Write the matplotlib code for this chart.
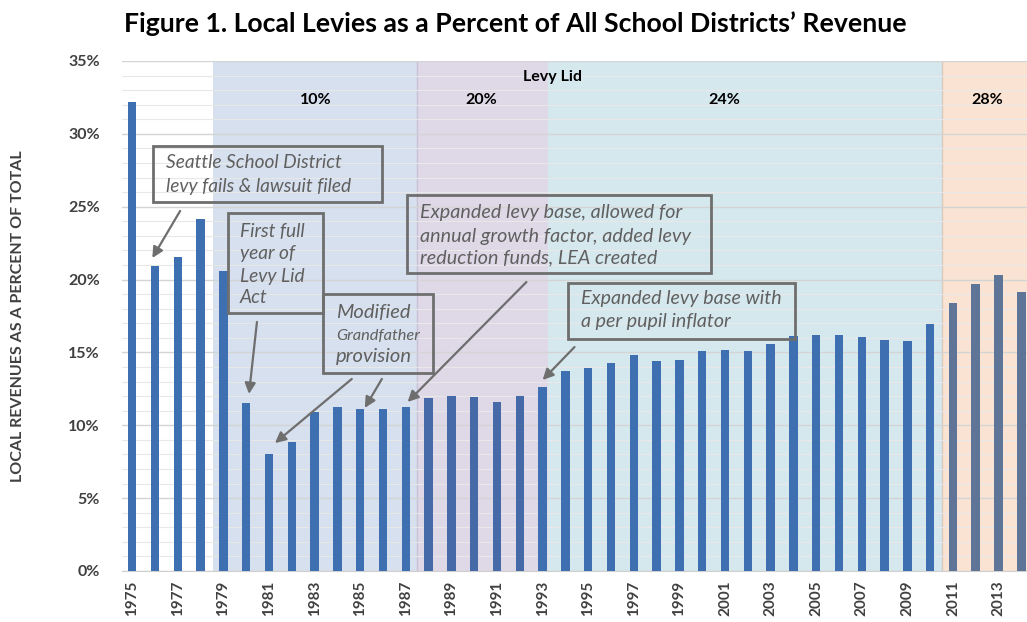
import numpy as np
import matplotlib
matplotlib.use('Agg')
import matplotlib.pyplot as plt
from matplotlib.patches import Rectangle

plt.rcParams['font.family'] = ['Lato', 'DejaVu Sans']

years = list(range(1975, 2015))
levy_pct = [32.2, 20.95, 21.55, 24.15, 20.6, 11.5, 8.0, 8.85, 10.9, 11.25,
            11.1, 11.1, 11.25, 11.9, 12.0, 11.95, 11.6, 12.0, 12.6, 13.7,
            13.9, 14.3, 14.8, 14.4, 14.5, 15.1, 15.2, 15.1, 15.6, 16.1,
            16.2, 16.2, 16.05, 15.85, 15.8, 16.95, 18.4, 19.7, 20.3, 19.15]

# levy lid periods: (start, end, label)
lid_start = [1978.55, 1987.5, 1993.25, 2010.5]
lid_end = [1987.5, 1993.25, 2010.5, 2014.3]
lid_labels = ['10%', '20%', '24%', '28%']
lid_label_x = [1983.06, 1990.32, 2000.96, 2012.52]
lid_colors = ['#d6e0ee', '#ded8e7', '#d5e8ee', '#fae3d2']

fig = plt.figure(figsize=(10.27, 6.22), dpi=100)
ax = fig.add_axes([122/1027, 1 - 571/622, 1 - 122/1027, (571 - 61)/622])

for s, e, c in zip(lid_start, lid_end, lid_colors):
    ax.axvspan(s, e, color=c, zorder=0, lw=0)
for b in [1987.5, 2010.5]:
    ax.axvline(b, color='#c9c0d6' if b < 2000 else '#d9c9bb', lw=1, zorder=0.5)

bar_cols = []
for y in years:
    if y >= 2011:
        bar_cols.append('#5e7598')
    elif 1988 <= y <= 1992:
        bar_cols.append('#4669a8')
    else:
        bar_cols.append('#3e6fb0')
ax.bar(years, levy_pct, width=0.37, color=bar_cols, zorder=3)

ax.set_xlim(1974.55, 2014.25)
ax.set_ylim(0, 35)
ax.set_yticks(np.arange(0, 36, 5))
ax.set_yticks(np.arange(0, 36, 1), minor=True)
ax.set_yticklabels([f'{v}%' for v in range(0, 36, 5)])
ax.grid(axis='y', which='major', color='#d4d4d4', lw=1, zorder=1)
ax.grid(axis='y', which='minor', color='#e8e8e8', lw=0.8, zorder=1)
ax.tick_params(axis='y', which='both', length=0, pad=16, labelsize=11.5, labelcolor='#404040')
ax.set_xticks(years[::2])
ax.set_xticklabels([str(y) for y in years[::2]], rotation=90)
ax.tick_params(axis='x', length=0, pad=7, labelsize=11, labelcolor='#404040')
for lab in ax.get_xticklabels() + ax.get_yticklabels():
    lab.set_fontweight('bold')
for sp in ['top', 'right', 'left']:
    ax.spines[sp].set_visible(False)
ax.spines['bottom'].set_color('#d0d0d0')

ax.set_ylabel('LOCAL REVENUES AS A PERCENT OF TOTAL', fontsize=11.5, fontweight='bold',
              color='#404040', labelpad=31)

fig.text(0.502, 0.962, 'Figure 1. Local Levies as a Percent of All School Districts\u2019 Revenue',
         ha='center', va='center', fontsize=19.2, fontweight='bold', color='black')

# lid rate labels
ax.text(1993.43, 33.9, 'Levy Lid', ha='center', va='center', fontsize=11.5,
        fontweight='bold', color='black')
for lx, lt in zip(lid_label_x, lid_labels):
    ax.text(lx, 32.35, lt, ha='center', va='center', fontsize=11.5,
            fontweight='bold', color='black')

# annotation boxes
gray = '#6e6e6e'
txt = '#606060'
boxes = [(1975.92, 25.32, 1985.95, 29.17),
         (1979.20, 17.71, 1983.36, 24.57),
         (1983.36, 13.59, 1988.18, 19.01),
         (1987.04, 20.45, 2000.39, 25.80),
         (1994.13, 15.92, 2004.07, 19.77)]
for x0, y0, x1, y1 in boxes:
    ax.add_patch(Rectangle((x0, y0), x1 - x0, y1 - y0, fill=False,
                           edgecolor=gray, lw=2, zorder=5))

notes = [
    (1976.49, [28.0, 26.42], ['Seattle School District', 'levy fails & lawsuit filed'], [13.8, 13.8]),
    (1979.73, [23.27, 21.76, 20.18, 18.74], ['First full', 'year of', 'Levy Lid', 'Act'], [13.8] * 4),
    (1983.93, [17.71, 16.13, 14.69], ['Modified', 'Grandfather', 'provision'], [14.5, 11.8, 14.5]),
    (1987.61, [24.57, 22.99, 21.48], ['Expanded levy base, allowed for',
                                      'annual growth factor, added levy',
                                      'reduction funds, LEA created'], [14.2] * 3),
    (1994.70, [18.67, 17.09], ['Expanded levy base with', 'a per pupil inflator'], [14.1, 14.1]),
]
for nx, nys, lines, sizes in notes:
    for ny, line, fs in zip(nys, lines, sizes):
        ax.text(nx, ny, line, ha='left', va='center', fontsize=fs,
                style='italic', color=txt, zorder=6)

arrows = [((1977.10, 24.71), (1975.88, 21.48)),
          ((1980.47, 17.09), (1980.12, 12.15)),
          ((1984.63, 13.18), (1981.26, 8.78)),
          ((1985.95, 13.18), (1985.20, 11.19)),
          ((1992.29, 19.83), (1987.08, 11.60)),
          ((1994.40, 15.37), (1993.0, 13.11))]
for start, tip in arrows:
    ax.annotate('', xy=tip, xytext=start,
                arrowprops=dict(arrowstyle='-|>', color=gray, lw=1.6,
                                mutation_scale=16, shrinkA=0, shrinkB=0),
                zorder=6)

fig.savefig('out.png', dpi=100)
